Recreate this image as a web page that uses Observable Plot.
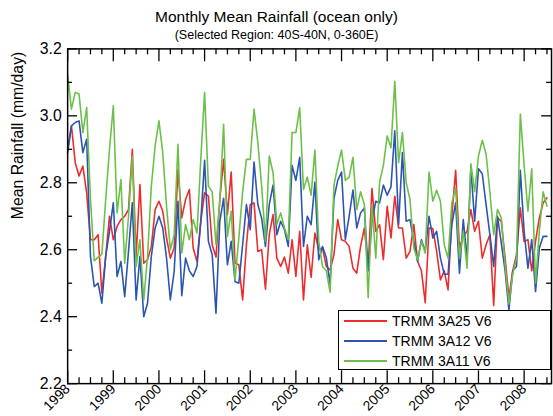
<!DOCTYPE html>
<html>
<head>
<meta charset="utf-8">
<script src="https://cdn.jsdelivr.net/npm/d3@7"></script>
<script src="https://cdn.jsdelivr.net/npm/@observablehq/plot@0.6"></script>
<style>
  html, body { margin: 0; padding: 0; background: #fff; overflow: hidden; }
  body { font-family: "Liberation Sans", Arial, Helvetica, sans-serif; color: #000; }
  #wrap { position: relative; width: 553px; height: 416px; overflow: hidden; }
  #chart { position: absolute; left: 0; top: 0; }
  #title { position: absolute; left: 0; top: 8px; width: 553px; text-align: center; font-size: 15.5px; line-height: 18px; }
  #subtitle { position: absolute; left: 0; top: 28px; width: 553px; text-align: center; font-size: 12.5px; line-height: 14px; }
  #legend { position: absolute; left: 338px; top: 310px; width: 211px; height: 58px; border: 1.5px solid #000; background: #fff; }
  .row { position: absolute; left: 0; height: 20px; width: 100%; }
  .sw { position: absolute; left: 5px; top: 9px; width: 43px; height: 0; border-top: 2px solid; }
  .lab { position: absolute; left: 53px; top: 1px; font-size: 14px; line-height: 18px; white-space: nowrap; }
</style>
</head>
<body>
<div id="wrap">
  <div id="chart"></div>
  <div id="title">Monthly Mean Rainfall (ocean only)</div>
  <div id="subtitle">(Selected Region: 40S-40N, 0-360E)</div>
  <div id="legend"></div>
</div>
<script>
// ---- data (monthly, starting January 1998) ----
const startYear = 1998;
const seriesNames = ["TRMM 3A25 V6", "TRMM 3A12 V6", "TRMM 3A11 V6"];
const seriesColors = ["#ee2b2b", "#2b55b0", "#6cc04a"];

const trmm3A25 = [
  2.90, 2.97, 2.86, 2.82, 2.85, 2.77, 2.63, 2.63, 2.645, 2.47, 2.58, 2.70,
  2.63, 2.67, 2.69, 2.70, 2.72, 2.90, 2.58, 2.795, 2.56, 2.57, 2.61, 2.72,
  2.745, 2.715, 2.635, 2.575, 2.605, 2.84, 2.695, 2.75, 2.78, 2.605, 2.565, 2.685,
  2.77, 2.76, 2.615, 2.578, 2.75, 2.87, 2.705, 2.832, 2.56, 2.555, 2.45, 2.615,
  2.735, 2.74, 2.595, 2.60, 2.482, 2.645, 2.705, 2.575, 2.55, 2.578, 2.53, 2.63,
  2.52, 2.655, 2.45, 2.615, 2.517, 2.65, 2.60, 2.605, 2.55, 2.54, 2.585, 2.69,
  2.63, 2.625, 2.61, 2.545, 2.53, 2.61, 2.665, 2.545, 2.783, 2.655, 2.675, 2.57,
  2.73, 2.635, 2.76, 2.665, 2.665, 2.575, 2.595, 2.675, 2.565, 2.537, 2.442, 2.665,
  2.663, 2.595, 2.51, 2.537, 2.48, 2.70, 2.837, 2.605, 2.64, 2.655, 2.72, 2.655,
  2.685, 2.575, 2.615, 2.645, 2.433, 2.695, 2.685, 2.575, 2.457, 2.537, 2.585, 2.725,
  2.625, 2.63, 2.537, 2.625, 2.695, 2.74, 2.755
];
const trmm3A12 = [
  2.89, 2.97, 2.98, 2.985, 2.89, 2.93, 2.58, 2.49, 2.50, 2.44, 2.58, 2.655,
  2.74, 2.52, 2.565, 2.46, 2.595, 2.74, 2.45, 2.58, 2.40, 2.44, 2.58, 2.665,
  2.70, 2.665, 2.575, 2.45, 2.535, 2.745, 2.463, 2.575, 2.537, 2.52, 2.55, 2.685,
  2.867, 2.625, 2.585, 2.41, 2.685, 2.754, 2.555, 2.625, 2.505, 2.50, 2.615, 2.735,
  2.66, 2.862, 2.735, 2.694, 2.61, 2.735, 2.793, 2.645, 2.685, 2.66, 2.61, 2.852,
  2.807, 2.876, 2.61, 2.70, 2.675, 2.802, 2.57, 2.61, 2.576, 2.497, 2.753, 2.807,
  2.832, 2.63, 2.70, 2.778, 2.665, 2.71, 2.725, 2.537, 2.685, 2.745, 2.74, 2.793,
  2.763, 2.788, 2.955, 2.675, 2.89, 2.685, 2.69, 2.625, 2.565, 2.63, 2.595, 2.70,
  2.635, 2.655, 2.575, 2.527, 2.527, 2.675, 2.74, 2.53, 2.69, 2.575, 2.842, 2.685,
  2.842, 2.827, 2.735, 2.645, 2.55, 2.70, 2.62, 2.537, 2.42, 2.537, 2.55, 2.837,
  2.655, 2.545, 2.63, 2.475, 2.605, 2.64, 2.64
];
const trmm3A11 = [
  3.12, 3.02, 3.07, 3.065, 2.95, 3.025, 2.75, 2.567, 2.577, 2.587, 2.75, 2.90,
  3.03, 2.71, 2.81, 2.56, 2.70, 2.88, 2.55, 2.63, 2.45, 2.58, 2.79, 2.91,
  2.985, 2.89, 2.73, 2.60, 2.645, 2.915, 2.59, 2.675, 2.63, 2.69, 2.65, 2.87,
  3.07, 2.79, 2.773, 2.615, 2.745, 2.975, 2.64, 2.715, 2.51, 2.635, 2.773, 2.87,
  2.87, 3.02, 2.92, 2.79, 2.625, 2.88, 2.83, 2.675, 2.71, 2.665, 2.63, 2.95,
  2.95, 3.024, 2.78, 2.817, 2.763, 2.898, 2.625, 2.55, 2.537, 2.473, 2.792, 2.85,
  2.898, 2.807, 2.817, 2.876, 2.72, 2.773, 2.735, 2.457, 2.735, 2.575, 2.802, 2.852,
  2.94, 2.905, 3.103, 2.86, 2.95, 2.80, 2.75, 2.605, 2.57, 2.625, 2.59, 2.832,
  2.745, 2.778, 2.745, 2.615, 2.575, 2.74, 2.784, 2.575, 2.655, 2.545, 2.857, 2.773,
  2.88, 2.927, 2.886, 2.773, 2.645, 2.72, 2.695, 2.555, 2.438, 2.527, 2.575, 3.005,
  2.852, 2.715, 2.842, 2.50, 2.655, 2.773, 2.73
];

const yearTicks = [1998, 1999, 2000, 2001, 2002, 2003, 2004, 2005, 2006, 2007, 2008];
const yMajor = [2.2, 2.4, 2.6, 2.8, 3.0, 3.2];
const yMinor = [2.3, 2.5, 2.7, 2.9, 3.1];

// ---- build long table ----
const allSeries = [trmm3A25, trmm3A12, trmm3A11];
const rows = [];
allSeries.forEach((vals, s) => vals.forEach((v, i) => rows.push({series: seriesNames[s], t: startYear + i / 12, v})));
const quarterTicks = [];
for (let y = yearTicks[0]; y <= yearTicks[yearTicks.length - 1]; y++) for (const q of [0.25, 0.5, 0.75]) quarterTicks.push(y + q);

// ---- layout ----
const W = 560, H = 416, mL = 68, mR = 2, mT = 49, mB = 28;
const fw = W - mL - mR, fh = H - mT - mB;
const ink = "#000";

const plot = Plot.plot({
  width: W, height: H,
  marginLeft: mL, marginRight: mR, marginTop: mT, marginBottom: mB,
  style: {fontFamily: "'Liberation Sans', Arial, sans-serif", background: "transparent", overflow: "visible"},
  x: {domain: [1998, 2008.6]},
  y: {domain: [2.2, 3.2]},
  color: {domain: seriesNames, range: seriesColors},
  marks: [
    ...seriesNames.map((name, s) => Plot.line(rows.filter(r => r.series === name), {
      x: "t", y: "v", stroke: seriesColors[s], strokeWidth: 1.6
    })),
    // inward ticks
    Plot.tickY(yMajor, {y: d => d, insetRight: fw - 10, stroke: ink, strokeWidth: 1.3}),
    Plot.tickY(yMinor, {y: d => d, insetRight: fw - 5, stroke: ink, strokeWidth: 1.3}),
    Plot.tickY(yMajor, {y: d => d, insetLeft: fw - 10, stroke: ink, strokeWidth: 1.3}),
    Plot.tickY(yMinor, {y: d => d, insetLeft: fw - 5, stroke: ink, strokeWidth: 1.3}),
    Plot.tickX(yearTicks, {x: d => d, insetTop: fh - 13, stroke: ink, strokeWidth: 1.3}),
    Plot.tickX(quarterTicks, {x: d => d, insetTop: fh - 6, stroke: ink, strokeWidth: 1.3}),
    Plot.tickX(yearTicks, {x: d => d, insetBottom: fh - 13, stroke: ink, strokeWidth: 1.3}),
    Plot.tickX(quarterTicks, {x: d => d, insetBottom: fh - 6, stroke: ink, strokeWidth: 1.3}),
    Plot.frame({stroke: ink, strokeWidth: 1.5}),
    Plot.axisY({ticks: yMajor, tickFormat: d => d.toFixed(1), tickSize: 0, tickPadding: 6, fontSize: 16, label: null}),
    Plot.axisX({ticks: yearTicks, tickFormat: d => String(d), tickSize: 0, tickPadding: 3, tickRotate: -45, fontSize: 14, label: null}),
    Plot.text(["Mean Rainfall (mm/day)"], {frameAnchor: "left", dx: -50, dy: 3, rotate: -90, fontSize: 16, fill: ink})
  ]
});
document.getElementById("chart").appendChild(plot);

// ---- legend ----
const legend = document.getElementById("legend");
seriesNames.forEach((name, s) => {
  const row = document.createElement("div");
  row.className = "row";
  row.style.top = (s * 20) + "px";
  row.innerHTML = `<div class="sw" style="border-top-color:${seriesColors[s]}"></div><div class="lab">${name}</div>`;
  legend.appendChild(row);
});
</script>
</body>
</html>
